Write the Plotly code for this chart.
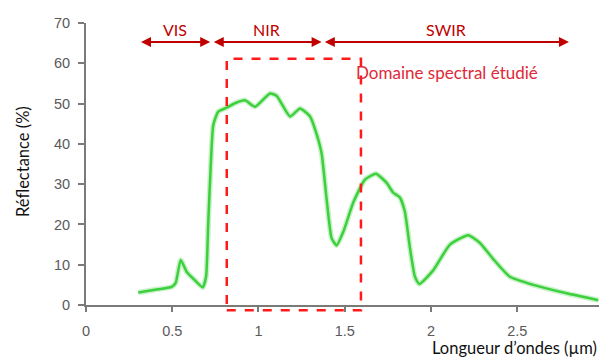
import plotly.graph_objects as go

# ---------------- data ----------------
wavelength = [0.303, 0.40, 0.497, 0.52, 0.549, 0.584, 0.63, 0.677, 0.696, 0.709, 0.723, 0.738,
              0.767, 0.816, 0.87, 0.922, 0.980, 1.067, 1.106, 1.183, 1.241, 1.299, 1.337,
              1.366, 1.395, 1.424, 1.453, 1.492, 1.550, 1.617, 1.681, 1.743, 1.781, 1.820,
              1.849, 1.878, 1.907, 1.932, 2.013, 2.110, 2.216, 2.284, 2.361, 2.458, 2.593,
              2.787, 2.970]
reflectance = [3.1, 3.8, 4.5, 5.5, 11.2, 8.2, 6.2, 4.4, 7.0, 20.7, 34.4, 44.7,
               48.0, 49.0, 50.2, 50.8, 49.2, 52.5, 51.9, 46.8, 48.8, 46.8, 42.4,
               37.6, 26.3, 16.6, 14.8, 18.2, 25.5, 31.1, 32.6, 30.3, 27.9, 26.7,
               23.1, 14.2, 7.0, 5.2, 8.6, 15.0, 17.3, 15.4, 11.4, 7.0, 5.0,
               2.9, 1.2]

x_ticks = [0, 0.5, 1, 1.5, 2, 2.5]
y_ticks = [0, 10, 20, 30, 40, 50, 60, 70]

bands = ["VIS", "NIR", "SWIR"]
band_start = [0.31, 0.732, 1.376]
band_end = [0.72, 1.366, 2.80]
band_arrow_y = 65.3
band_label_y = 68.3

study_label = "Domaine spectral étudié"
study_x = [0.816, 1.594]
study_y = [-1.3, 61.1]
study_label_x = 1.555
study_label_y = 57.6

x_title = "Longueur d’ondes (µm)"
y_title = "Réflectance (%)"

X_RANGE = [0, 2.98]
Y_RANGE = [0, 70]

def px(v):
    return (v - X_RANGE[0]) / (X_RANGE[1] - X_RANGE[0])

def py(v):
    return (v - Y_RANGE[0]) / (Y_RANGE[1] - Y_RANGE[0])

fig = go.Figure()
fig.add_trace(go.Scatter(x=wavelength, y=reflectance, mode="lines",
                         line=dict(color="rgba(80,210,80,0.30)", width=5.5, shape="spline", smoothing=0.5),
                         hoverinfo="skip", showlegend=False))
fig.add_trace(go.Scatter(x=wavelength, y=reflectance, mode="lines",
                         line=dict(color="#3cd03c", width=2.5, shape="spline", smoothing=0.5),
                         showlegend=False))

axis_col = "#7a7a7a"
tick_font = dict(family="Liberation Sans, Arial, sans-serif", size=14.5, color="#5a5a5a")

fig.update_xaxes(range=X_RANGE, tickvals=x_ticks, showgrid=False, zeroline=False,
                 showline=True, linecolor=axis_col, linewidth=2,
                 ticks="outside", ticklen=5, tickcolor=axis_col, tickwidth=1.5,
                 tickfont=tick_font, ticklabelstandoff=7)
fig.update_yaxes(range=Y_RANGE, tickvals=y_ticks, showgrid=False, zeroline=False,
                 showline=True, linecolor=axis_col, linewidth=2,
                 ticks="outside", ticklen=6, tickcolor=axis_col, tickwidth=1.5,
                 tickfont=tick_font, ticklabelstandoff=5)

annotations = []
red = "#c00000"
for name, s, e in zip(bands, band_start, band_end):
    annotations.append(dict(x=e, y=band_arrow_y, ax=s, ay=band_arrow_y, xref="x", yref="y",
                            axref="x", ayref="y", text="", showarrow=True,
                            arrowhead=2, startarrowhead=2, arrowside="end+start",
                            arrowsize=1, startarrowsize=1, arrowwidth=2, arrowcolor=red,
                            standoff=0, startstandoff=0))
    annotations.append(dict(x=(s + e) / 2, y=band_label_y, xref="x", yref="y", text=name,
                            showarrow=False, font=dict(family="Lato, sans-serif", size=16, color=red)))

annotations.append(dict(x=study_label_x, y=study_label_y, xref="x", yref="y", text=study_label,
                        showarrow=False, xanchor="left",
                        font=dict(family="Lato, sans-serif", size=17, color="#e02838")))

annotations.append(dict(x=1, y=0, xref="paper", yref="paper", text=x_title, showarrow=False,
                        xanchor="right", yanchor="middle", yshift=-43, xshift=-1,
                        font=dict(family="Lato, sans-serif", size=16.5, color="#111")))
annotations.append(dict(x=0, y=0.5, xref="paper", yref="paper", text=y_title, showarrow=False,
                        textangle=-90, xanchor="center", yanchor="middle", xshift=-63, yshift=2,
                        font=dict(family="Lato, sans-serif", size=16.5, color="#111")))

fig.add_shape(type="rect", xref="paper", yref="paper",
              x0=px(study_x[0]), x1=px(study_x[1]), y0=py(study_y[0]), y1=py(study_y[1]),
              line=dict(color="#ff1a1a", width=2.5, dash="dash"))

# page body has an 8px margin: the figure box is offset so the plot lands where the reference has it
fig.update_layout(width=599, height=352, margin=dict(l=78, r=7, t=8, b=54.5),
                  plot_bgcolor="white", paper_bgcolor="white", annotations=annotations)

fig.write_html("out.html")
